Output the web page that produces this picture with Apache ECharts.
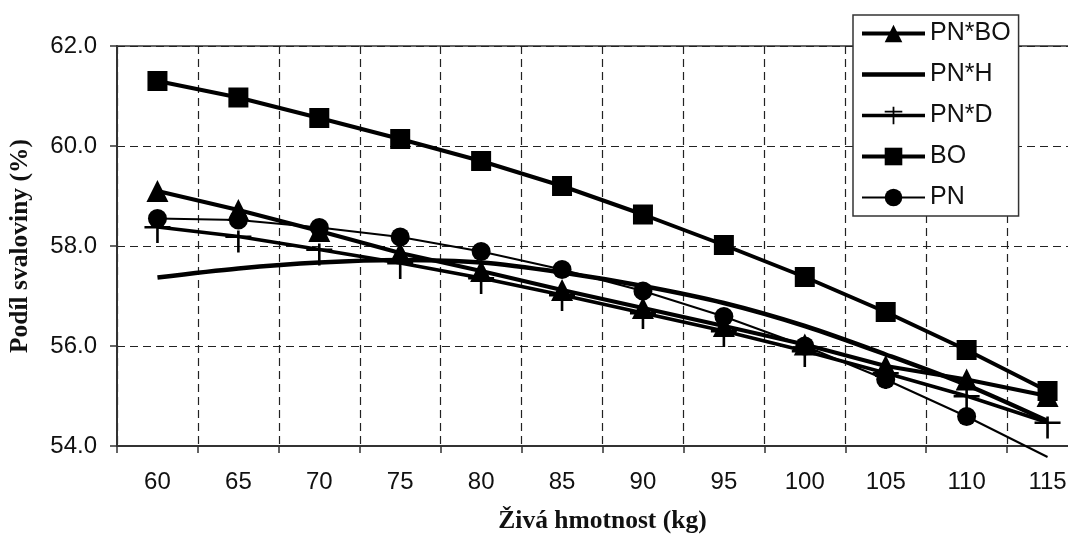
<!DOCTYPE html>
<html>
<head>
<meta charset="utf-8">
<script src="https://cdn.jsdelivr.net/npm/echarts@6/dist/echarts.min.js"></script>
<style>
html,body{margin:0;padding:0;background:#fff;}
#chart{width:1068px;height:539px;}
</style>
</head>
<body>
<div id="chart"></div>
<script>
// Categories (live weight, kg)
var categories = ['60','65','70','75','80','85','90','95','100','105','110','115'];
// Series values (muscle share, %)
var pnBO = [59.1, 58.72, 58.3, 57.86, 57.5, 57.12, 56.76, 56.4, 56.03, 55.6, 55.33, 55.0];
var pnH  = [57.37, 57.55, 57.67, 57.72, 57.67, 57.47, 57.2, 56.86, 56.4, 55.83, 55.22, 54.5];
var pnD  = [58.38, 58.19, 57.93, 57.66, 57.36, 57.02, 56.66, 56.3, 55.9, 55.46, 55.0, 54.47];
var bo   = [61.3, 60.97, 60.56, 60.14, 59.7, 59.2, 58.63, 58.02, 57.38, 56.68, 55.92, 55.1];
var pn   = [58.55, 58.52, 58.37, 58.18, 57.89, 57.53, 57.1, 56.59, 56.0, 55.33, 54.59, 53.78];
var seriesNames = ['PN*BO', 'PN*H', 'PN*D', 'BO', 'PN'];
var yTicks = [54, 56, 58, 60, 62];

var plusSymbol = 'path://M0,5h24v2.4h-24z M10.8,0h2.4v22h-2.4z';
var plainLineIcon = 'path://M0,0h0.01v0.01h-0.01z M0,8.8h63v4.4h-63z M62.99,21.99h0.01v0.01h-0.01z';

// PN's last point falls below the axis: drawn without a marker
var pnData = pn.map(function (v, i) {
  return i === pn.length - 1 ? { value: v, symbol: 'none' } : v;
});

var chart = echarts.init(document.getElementById('chart'));
var axisFont = { fontFamily: 'Liberation Sans', fontSize: 24, color: '#111' };
var titleFont = { fontFamily: 'Liberation Serif', fontWeight: 'bold', fontSize: 25.5, color: '#111' };
chart.setOption({
  animation: false,
  backgroundColor: '#fff',
  grid: {
    left: 117, top: 46, bottom: 93, width: 971,
    outerBoundsMode: 'none', containLabel: false,
    show: true, borderColor: '#333', borderWidth: 1.5, backgroundColor: 'transparent'
  },
  legend: {
    orient: 'vertical',
    left: 853, top: 15,
    padding: [6, 8, 6, 7],
    itemWidth: 63, itemHeight: 22, itemGap: 16,
    backgroundColor: '#fff',
    borderColor: '#333', borderWidth: 1.5,
    lineStyle: { width: 'inherit' },
    textStyle: { fontFamily: 'Liberation Sans', fontSize: 25, color: '#111', lineHeight: 22 },
    data: [
      { name: seriesNames[0] },
      { name: seriesNames[1], icon: plainLineIcon },
      { name: seriesNames[2] },
      { name: seriesNames[3] },
      { name: seriesNames[4] }
    ]
  },
  xAxis: {
    type: 'category',
    data: categories,
    boundaryGap: true,
    name: 'Živá hmotnost (kg)',
    nameLocation: 'middle',
    nameGap: 62,
    nameTextStyle: titleFont,
    axisLine: { lineStyle: { color: '#333', width: 2 } },
    axisTick: { show: true, interval: 0, length: 7, lineStyle: { color: '#333', width: 1.5 } },
    axisLabel: Object.assign({ interval: 0, margin: 24 }, axisFont),
    splitLine: { show: true, interval: 0, lineStyle: { color: '#222', type: [8, 5], width: 1.2 } }
  },
  yAxis: {
    type: 'value',
    min: 54, max: 62, interval: 2,
    name: 'Podíl svaloviny (%)',
    nameLocation: 'middle',
    nameGap: 84,
    nameRotate: 90,
    nameTextStyle: titleFont,
    axisLine: { show: true, lineStyle: { color: '#333', width: 2 } },
    axisTick: { show: true, length: 7, lineStyle: { color: '#333', width: 1.5 } },
    axisLabel: Object.assign({
      margin: 20,
      formatter: function (v) { return yTicks.indexOf(v) >= 0 ? v.toFixed(1) : ''; }
    }, axisFont),
    splitLine: { show: true, lineStyle: { color: '#222', type: [8, 5], width: 1.2 } }
  },
  series: [
    {
      name: seriesNames[0], type: 'line', data: pnBO,
      symbol: 'triangle', symbolSize: 22,
      lineStyle: { color: '#000', width: 4 }, itemStyle: { color: '#000' }
    },
    {
      name: seriesNames[1], type: 'line', data: pnH,
      symbol: 'none', smooth: 0.3,
      lineStyle: { color: '#000', width: 4.5 }, itemStyle: { color: '#000' }
    },
    {
      name: seriesNames[2], type: 'line', data: pnD,
      symbol: plusSymbol, symbolSize: [26, 22], symbolOffset: [0, 5],
      lineStyle: { color: '#000', width: 3.5 }, itemStyle: { color: '#000' }
    },
    {
      name: seriesNames[3], type: 'line', data: bo,
      symbol: 'rect', symbolSize: 20,
      lineStyle: { color: '#000', width: 4 }, itemStyle: { color: '#000' }
    },
    {
      name: seriesNames[4], type: 'line', data: pnData,
      symbol: 'circle', symbolSize: 19, clip: false,
      lineStyle: { color: '#000', width: 2 }, itemStyle: { color: '#000' }
    }
  ]
});
</script>
</body>
</html>
